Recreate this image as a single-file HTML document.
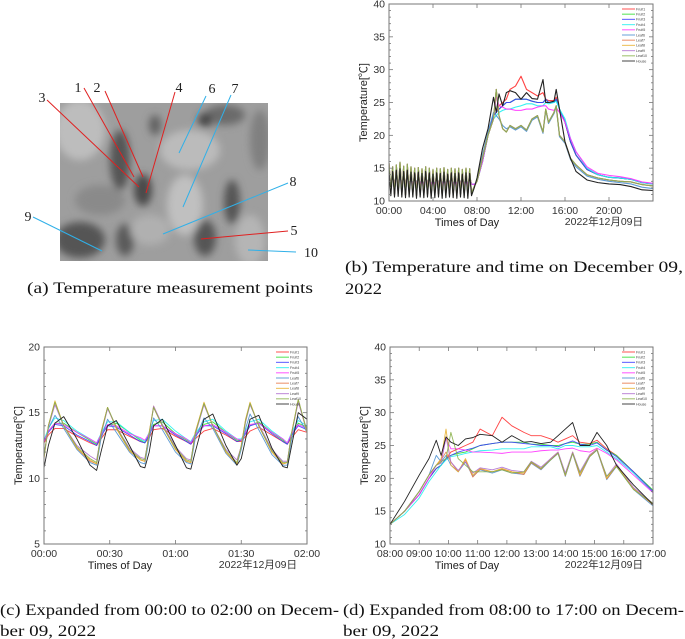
<!DOCTYPE html>
<html><head><meta charset="utf-8">
<style>
html,body{margin:0;padding:0;background:#fff;}
body{width:685px;height:639px;position:relative;overflow:hidden;}
svg{position:absolute;left:0;top:0;}
.cap{font-family:"Liberation Serif","Noto Serif CJK SC",serif;font-size:15.5px;fill:#111;}
.tk{font-family:"Liberation Sans","Noto Sans CJK JP",sans-serif;font-size:10.5px;fill:#333;}
.ttl{font-family:"Liberation Sans","Noto Sans CJK JP",sans-serif;font-size:11px;fill:#222;}
.lg{font-family:"Liberation Sans",sans-serif;font-size:3.6px;fill:#444;}
.num{font-family:"Liberation Serif",serif;font-size:14px;fill:#222;}
</style></head>
<body>
<svg id="fig" width="685" height="639" viewBox="0 0 685 639">
  <g>
    <defs>
      <filter id="blur"><feGaussianBlur stdDeviation="4"/></filter>
      <clipPath id="pc"><rect x="60" y="103" width="208" height="158"/></clipPath>
    </defs>
    <rect x="60" y="103" width="208" height="158" fill="#9e9e9e"/>
    <g clip-path="url(#pc)" filter="url(#blur)">
      <ellipse cx="80" cy="130" rx="25" ry="30" fill="#bdbdbd"/>
      <ellipse cx="120" cy="160" rx="10" ry="30" fill="#555"/>
      <ellipse cx="143" cy="190" rx="9" ry="16" fill="#4a4a4a"/>
      <ellipse cx="155" cy="125" rx="6" ry="10" fill="#606060"/>
      <ellipse cx="190" cy="150" rx="30" ry="20" fill="#bbb"/>
      <ellipse cx="225" cy="115" rx="20" ry="10" fill="#6a6a6a"/>
      <ellipse cx="232" cy="202" rx="8" ry="22" fill="#555"/>
      <ellipse cx="205" cy="238" rx="11" ry="18" fill="#555"/>
      <ellipse cx="125" cy="240" rx="9" ry="16" fill="#5a5a5a"/>
      <ellipse cx="80" cy="240" rx="25" ry="18" fill="#555"/>
      <ellipse cx="185" cy="205" rx="18" ry="30" fill="#c0c0c0"/>
      <ellipse cx="250" cy="240" rx="15" ry="25" fill="#b5b5b5"/>
      <ellipse cx="100" cy="200" rx="25" ry="15" fill="#8a8a8a"/>
      <ellipse cx="260" cy="140" rx="10" ry="30" fill="#808080"/>
      <ellipse cx="205" cy="120" rx="7" ry="7" fill="#444"/>
      <ellipse cx="150" cy="230" rx="20" ry="15" fill="#b0b0b0"/>
    </g>
  </g>
  <g stroke-width="1">
    <line x1="84" y1="88" x2="134" y2="177" stroke="#e02020"/>
    <line x1="105" y1="91" x2="143" y2="177" stroke="#e02020"/>
    <line x1="47" y1="100" x2="139" y2="187" stroke="#e02020"/>
    <line x1="175" y1="92" x2="146" y2="193" stroke="#e02020"/>
    <line x1="288" y1="231" x2="201" y2="239" stroke="#e02020"/>
    <line x1="206" y1="96" x2="179" y2="153" stroke="#30b0e8"/>
    <line x1="231" y1="95" x2="183" y2="207" stroke="#30b0e8"/>
    <line x1="288" y1="183" x2="163" y2="234" stroke="#30b0e8"/>
    <line x1="33" y1="217" x2="102" y2="251" stroke="#30b0e8"/>
    <line x1="296" y1="252" x2="248" y2="250" stroke="#30b0e8"/>
  </g>
  <g text-anchor="middle">
    <text class="num" x="78" y="92">1</text>
    <text class="num" x="97" y="92">2</text>
    <text class="num" x="42" y="102">3</text>
    <text class="num" x="179" y="92">4</text>
    <text class="num" x="212" y="93">6</text>
    <text class="num" x="235" y="93">7</text>
    <text class="num" x="293" y="186">8</text>
    <text class="num" x="294" y="235">5</text>
    <text class="num" x="28" y="221">9</text>
    <text class="num" x="311" y="257">10</text>
  </g>
  <text class="cap" x="27" y="293" textLength="286" lengthAdjust="spacingAndGlyphs">(a) Temperature measurement points</text>
  <text class="cap" x="345" y="272" textLength="338" lengthAdjust="spacingAndGlyphs">(b) Temperature and time on December 09,</text>
  <text class="cap" x="345" y="294" textLength="37" lengthAdjust="spacingAndGlyphs">2022</text>
  <text class="cap" x="0" y="615" textLength="339" lengthAdjust="spacingAndGlyphs">(c) Expanded from 00:00 to 02:00 on Decem-</text>
  <text class="cap" x="0" y="636" textLength="96" lengthAdjust="spacingAndGlyphs">ber 09, 2022</text>
  <text class="cap" x="343" y="615" textLength="341" lengthAdjust="spacingAndGlyphs">(d) Expanded from 08:00 to 17:00 on Decem-</text>
  <text class="cap" x="343" y="636" textLength="96" lengthAdjust="spacingAndGlyphs">ber 09, 2022</text>
</svg>
<script>
const seriesNames = ["Fruit1","Fruit2","Fruit3","Fruit4","Fruit5","Leaf6","Leaf7","Leaf8","Leaf9","Leaf10","House"];
const seriesColors = ["#ff3030","#30dd30","#3a3aff","#20f0f0","#ff30ff","#4a90d0","#e87848","#e8b030","#b070d0","#88b048","#222222"];

const bTimes = [0,10,20,30,40,50,60,70,80,90,100,110,120,130,140,150,160,170,180,190,200,210,220,230,240,250,260,270,280,290,300,310,320,330,340,350,360,370,380,390,400,410,420,430,440,450,
  465,480,510,540,570,585,600,620,640,660,690,720,750,780,810,840,855,870,900,912,930,960,990,1020,1080,1140,1200,1260,1320,1380,1440];
const bLeafNight = [15.8,11.5,15.2,11.0,15.5,11.2,15.9,11.0,15.3,10.9,15.6,11.1,15.2,11.0,15.0,10.8,15.1,11.0,14.9,10.9,15.2,11.0,15.0,10.8,14.8,10.9,15.0,11.0,14.9,10.8,15.1,10.9,14.8,11.0,15.0,10.9,14.9,10.8,15.0,11.0,14.8,10.9,15.0,10.8,14.9,11.2];
const bHouseNight = [14.8,10.8,14.5,10.6,14.7,10.7,14.9,10.6,14.5,10.5,14.7,10.6,14.4,10.6,14.3,10.4,14.4,10.6,14.2,10.5,14.5,10.6,14.3,10.4,14.1,10.5,14.3,10.6,14.2,10.4,14.4,10.5,14.1,10.6,14.3,10.5,14.2,10.4,14.3,10.6,14.1,10.5,14.3,10.4,14.2,10.8];
const bFruitNight = [13.9,12.6,13.8,12.5,13.9,12.6,14.0,12.5,13.8,12.4,13.9,12.5,13.7,12.5,13.7,12.4,13.8,12.5,13.6,12.4,13.8,12.5,13.7,12.4,13.6,12.4,13.7,12.5,13.6,12.4,13.7,12.4,13.6,12.5,13.7,12.4,13.6,12.4,13.7,12.5,13.6,12.4,13.7,12.4,13.6,12.6];
const bHouseDay = [12.0,13.5,18,21,25.8,23.5,26.3,24.5,26.5,26.8,26.5,25.5,26.5,25.6,25.5,28.5,25,25,25.2,27,24,19,16.5,14.5,13.2,12.8,12.6,12.5,12.2,11.7,11.6];
const bLeafDay = [12.2,13,16.5,20,22.5,27,23,21,20.5,21.5,21,21.5,20.8,22.5,23,20.5,24,22,23.5,24.5,20,19,16.5,15.5,14,13.5,13.2,13,12.9,12.5,12.3];
const bLeaf6Day = [12.2,13,17,20.5,23.5,23,22.5,21.5,21,21.3,20.8,21.3,20.6,22.3,22.8,20.3,23.8,21.8,23.3,24.3,19.8,18.8,16.3,15.2,13.8,13.3,13,12.8,12.6,12.1,11.9];
const bFruit1Day = [12.5,13,16,20,23,23.5,24.5,25,25.5,27,27.5,29,27,26.5,26,26.5,25.5,25.3,25.3,25.8,24,22,19,17,14.8,14,13.6,13.5,13.3,12.8,12.6];
const bFruit3Day = [12.5,13,16,20,23,23.5,24,24.5,25,25,25.5,25.5,25.5,25.2,25,25,25.5,25,25,25.5,24,22,19,17,14.8,14,13.6,13.5,13.3,12.8,12.6];
const bFruit4Day = [12.5,13,16,20,22.5,23,23.5,23.8,24,24,24.3,24.5,24.8,24.8,24.5,24.5,25,24.8,25,25.2,24,22.5,19.5,17.5,15,14,13.6,13.5,13.3,12.8,12.6];
const bFruit5Day = [12.5,13,16,20,22.5,26,24.5,24.3,24,24,23.8,23.8,24,24,24.3,24.5,24.5,24,23.8,24.2,23.5,22,19.5,17.5,15.2,14.2,13.9,13.7,13.4,12.9,12.7];

const cTimes = [0,2,5,9,15,21,24,26,29,33,39,44,46,48,50,54,60,65,67,69,73,77,83,88,90,92,94,98,104,109,111,113,116,120];
const cFruit1 = [12.7,13.3,13.8,13.8,13.2,12.7,12.5,13.0,13.7,13.7,13.2,12.8,12.7,13.1,13.7,13.8,13.2,12.8,12.6,13.0,13.6,13.8,13.3,12.8,12.8,13.2,13.6,13.9,13.3,12.8,12.6,13.1,13.7,13.5];
const cFruit2 = [12.9,13.6,14.2,14.2,13.5,12.9,12.6,13.3,14.0,14.2,13.5,12.9,12.7,13.3,14.1,14.3,13.4,12.9,12.7,13.3,14.1,14.3,13.5,12.9,12.9,13.4,14.0,14.3,13.5,12.9,12.6,13.3,14.2,13.9];
const cFruit3 = [12.8,13.5,14.1,14.0,13.3,12.8,12.5,13.2,14.0,13.9,13.3,12.8,12.7,13.3,14.0,14.0,13.3,12.8,12.6,13.2,14.0,14.0,13.4,12.8,12.9,13.4,14.0,14.2,13.4,12.8,12.6,13.3,14.0,13.7];
const cFruit4 = [12.9,13.8,14.6,14.4,13.6,13.0,12.7,13.4,14.3,14.3,13.5,13.0,12.8,13.5,14.4,14.5,13.6,13.0,12.8,13.4,14.3,14.5,13.6,13.0,13.0,13.6,14.3,14.5,13.6,13.0,12.7,13.5,14.4,14.0];
const cFruit5 = [12.8,13.6,14.2,14.1,13.5,13.0,12.7,13.3,14.1,14.0,13.4,13.1,12.9,13.4,14.0,14.0,13.4,13.0,12.7,13.3,14.0,14.1,13.5,13.0,12.9,13.5,14.1,14.2,13.5,13.0,12.7,13.4,14.1,13.8];
const cLeaf6 = [11.8,13.8,14.8,13.8,12.2,11.2,11.0,13.0,14.5,13.5,12.0,11.2,11.1,13.0,14.6,13.7,12.0,11.2,11.1,13.0,14.6,13.8,11.9,11.0,12.2,13.8,14.9,13.7,11.8,11.0,11.0,13.0,14.7,13.5];
const cLeaf7 = [11.6,14.0,15.8,14.0,12.3,11.3,11.1,13.5,15.4,13.8,12.1,11.4,11.3,13.5,15.4,14.0,12.2,11.3,11.2,13.5,15.7,14.0,12.0,11.1,12.5,14.5,15.7,14.0,12.0,11.1,11.2,13.5,15.9,13.5];
const cLeaf8 = [11.5,14.0,15.9,14.0,12.3,11.4,11.1,13.5,15.4,13.8,12.1,11.4,11.3,13.5,15.5,14.0,12.2,11.3,11.2,13.5,15.8,14.0,12.0,11.1,12.5,14.5,15.8,14.0,12.0,11.1,11.2,13.5,16.0,13.5];
const cLeaf9 = [11.7,13.9,15.6,14.0,12.5,11.7,11.4,13.3,15.3,13.9,12.3,11.6,11.5,13.3,15.5,14.1,12.4,11.5,11.4,13.3,15.6,14.0,12.2,11.4,12.4,14.3,15.6,14.1,12.2,11.3,11.3,13.4,15.8,13.6];
const cLeaf10 = [11.6,14.0,15.8,14.0,12.4,11.5,11.2,13.4,15.4,13.9,12.2,11.5,11.4,13.4,15.4,14.0,12.3,11.4,11.3,13.4,15.7,14.0,12.1,11.2,12.4,14.4,15.7,14.0,12.1,11.2,11.2,13.4,16.0,13.6];
const cHouse = [10.8,12.5,14.2,14.7,13.0,11.0,10.6,12.0,14.0,14.4,12.5,10.9,10.8,12.0,14.0,14.5,12.5,10.8,10.7,12.0,14.5,14.9,12.5,11.0,11.5,13.0,14.5,14.8,12.3,10.9,10.8,12.5,15.0,14.5];

const dTimes = [0,30,60,80,95,105,115,125,140,155,170,185,210,230,250,275,290,310,330,345,360,375,390,410,425,445,465,500,540];
const dFruit1 = [13,15,17.5,20,21.5,22,23,24,24.5,25,25.5,27.5,26.5,29.3,28,27,26.5,26.5,26,25.5,26,26.5,25.5,25.3,25.8,24.5,23.5,21,18];
const dFruit2 = [13,15,17.5,20,21.5,22,23,23.5,23.8,24,24.5,25,25.3,25.5,25.5,25.5,25.2,25.2,25,25,25.3,25.5,25.2,25.2,25.5,24.3,23.5,21,18.2];
const dFruit3 = [13,15,17.5,20,21.5,22,23,23.5,24,24.3,24.6,25,25.3,25.5,25.5,25.3,25.2,25,25,24.8,25.3,25.7,25.2,25,25.4,24.3,23.3,21,18];
const dFruit4 = [13,14.5,17,19.5,21,22,22.8,23.3,23.5,23.8,24,24.2,24.3,24.5,24.5,24.5,24.8,24.8,24.8,24.5,25,25,24.8,24.8,25,24,23,20.8,17.8];
const dFruit5 = [13,15,17.5,20,22,22.5,26.2,24.5,24.5,24.3,24,24,23.9,23.8,24,24,24,24.2,24.3,24.3,24.5,24.6,24.2,24,24.6,23.8,22.8,20.5,17.8];
const dLeaf6 = [13,15,18,20.5,23.5,22.5,23.5,22,21,22.5,20.3,21.3,20.8,21.3,20.8,20.6,22.3,21.3,22.8,23.8,20.3,23.8,20.3,23.3,24.3,19.8,21.8,18.3,15.8];
const dLeaf7 = [13,15,18,20.5,22,22.8,24,22.5,21,22.8,20.2,21.4,21,21.4,21,20.6,22.4,21.4,22.9,23.9,20.4,23.9,20.4,23.4,24.4,19.9,21.9,18.4,16];
const dLeaf8 = [13,15,18,20.5,22,23,27.5,22,21,23,20.5,21.5,21,21.5,21,20.8,22.5,21.5,23,24,20.5,24,20.5,23.5,24.5,20,22,18.5,16];
const dLeaf9 = [13,15,18,20.5,22,22.3,26.3,22.5,21.2,22.5,20.8,21.6,21.3,21.7,21.2,21,22.6,21.7,23,24,20.8,24,21,23.6,24.4,20.3,22.2,18.6,16.2];
const dLeaf10 = [13,15,18,20.5,22,22.5,23,27,23,22,21,21,21,21.3,20.8,21,22.5,21.5,22.8,23.8,20.5,23.8,20.8,23.3,24.3,20.3,21.8,18.3,16.2];
const dHouse = [13,16.5,20.5,23,25.8,23.5,26.3,25.5,25,26,26.2,26.7,26.5,25.5,26.5,25.5,25.6,25.3,25.5,26.5,27.5,28.5,25,25,27,25,22,19,16];

const SVGNS = "http://www.w3.org/2000/svg";
const fig = document.getElementById("fig");
function mk(tag, attrs, parent){ const e=document.createElementNS(SVGNS,tag); for(const k in attrs) e.setAttribute(k,attrs[k]); (parent||fig).appendChild(e); return e; }

function drawChart(cfg){
  const g = mk("g",{});
  
  
  const xs = v => cfg.L + (v - cfg.x0)/(cfg.x1 - cfg.x0)*(cfg.R - cfg.L);
  const ys = v => cfg.B - (v - cfg.y0)/(cfg.y1 - cfg.y0)*(cfg.B - cfg.T);
  const clipId = cfg.name + "-clip";
  const cp = mk("clipPath",{id:clipId},g);
  mk("rect",{x:cfg.L,y:cfg.T,width:cfg.R-cfg.L,height:cfg.B-cfg.T},cp);
  const sg = mk("g",{"clip-path":"url(#"+clipId+")"},g);
  cfg.series.forEach((vals,i)=>{
    let d="";
    vals.forEach((v,j)=>{ d += (j?"L":"M") + xs(cfg.times[j]).toFixed(2) + "," + ys(v).toFixed(2); });
    const p = mk("path",{d:d,fill:"none",stroke:seriesColors[i],"stroke-width":cfg.sw,"stroke-opacity":i===10?1:0.9,"stroke-linejoin":"round"},sg);
    
    
  });
  const fr = mk("rect",{x:cfg.L,y:cfg.T,width:cfg.R-cfg.L,height:cfg.B-cfg.T,fill:"none",stroke:"#777","stroke-width":1},g);
  
  
  for(let v=cfg.y0; v<=cfg.y1+1e-9; v+=cfg.yMinor){
    const major = Math.abs((v-cfg.y0)/cfg.yStep - Math.round((v-cfg.y0)/cfg.yStep))<1e-6;
    const len = major?4:2;
    mk("line",{x1:cfg.L,x2:cfg.L+len,y1:ys(v),y2:ys(v),stroke:"#777","stroke-width":0.8},g);
    mk("line",{x1:cfg.R,x2:cfg.R-len,y1:ys(v),y2:ys(v),stroke:"#777","stroke-width":0.8},g);
  }
  cfg.yTicks.forEach(v=>{
    const t = mk("text",{x:cfg.L-4,y:ys(v)+3.5,"text-anchor":"end",class:"tk"},g);
    t.textContent = String(v);
    
    
  });
  cfg.xTicks.forEach((v,k)=>{
    mk("line",{x1:xs(v),x2:xs(v),y1:cfg.B,y2:cfg.B-4,stroke:"#777","stroke-width":0.8},g);
    mk("line",{x1:xs(v),x2:xs(v),y1:cfg.T,y2:cfg.T+4,stroke:"#777","stroke-width":0.8},g);
    const t = mk("text",{x:xs(v),y:cfg.B+13,"text-anchor":"middle",class:"tk"},g);
    t.textContent = cfg.xLabels[k];
    
    
  });
  const xt = mk("text",{x:cfg.xTitleX,y:cfg.B+25,"text-anchor":"middle",class:"ttl"},g);
  xt.textContent = "Times of Day";
  
  
  const dt = mk("text",{x:cfg.R-10,y:cfg.B+24,"text-anchor":"end",class:"tk"},g);
  dt.textContent = "2022年12月09日";
  
  
  const cy = (cfg.T+cfg.B)/2;
  const yt = mk("text",{x:cfg.L-22,y:cy,"text-anchor":"middle",class:"ttl",transform:"rotate(-90 "+(cfg.L-22)+" "+cy+")"},g);
  yt.textContent = "Temperature[℃]";
  
  
  const lg = mk("g",{},g);
  
  
  seriesNames.forEach((n,i)=>{
    const y = cfg.T + 5 + i*5.2;
    const ln = mk("line",{x1:cfg.R-31,x2:cfg.R-18,y1:y,y2:y,stroke:seriesColors[i],"stroke-width":1.2,"stroke-opacity":0.7},lg);
    
    
    const t = mk("text",{x:cfg.R-17,y:y+1.3,class:"lg"},lg);
    t.textContent = n;
    
    
  });
}

const bLeaf = bLeafNight.concat(bLeafDay);
const bLeaf6 = bLeafNight.concat(bLeaf6Day);
const bHouse = bHouseNight.concat(bHouseDay);
const bF1 = bFruitNight.concat(bFruit1Day);
const bF3 = bFruitNight.concat(bFruit3Day);
const bF4 = bFruitNight.concat(bFruit4Day);
const bF5 = bFruitNight.concat(bFruit5Day);

drawChart({name:"chart-b-full-day",L:389,R:653,T:4,B:201,x0:0,x1:1440,y0:10,y1:40,yStep:5,yMinor:1,sw:1.1,
  yTicks:[10,15,20,25,30,35,40],xTicks:[0,240,480,720,960,1200],xLabels:["00:00","04:00","08:00","12:00","16:00","20:00"],
  xTitleX:467,times:bTimes,series:[bF1,bF3,bF3,bF4,bF5,bLeaf6,bLeaf,bLeaf,bLeaf,bLeaf,bHouse]});

drawChart({name:"chart-c-night",L:44,R:307,T:347,B:544,x0:0,x1:120,y0:5,y1:20,yStep:5,yMinor:1,sw:0.9,
  yTicks:[5,10,15,20],xTicks:[0,30,60,90,120],xLabels:["00:00","00:30","01:00","01:30","02:00"],
  xTitleX:120,times:cTimes,series:[cFruit1,cFruit2,cFruit3,cFruit4,cFruit5,cLeaf6,cLeaf7,cLeaf8,cLeaf9,cLeaf10,cHouse]});

drawChart({name:"chart-d-daytime",L:390,R:653,T:347,B:544,x0:0,x1:540,y0:10,y1:40,yStep:5,yMinor:1,sw:0.9,
  yTicks:[10,15,20,25,30,35,40],xTicks:[0,60,120,180,240,300,360,420,480,540],
  xLabels:["08:00","09:00","10:00","11:00","12:00","13:00","14:00","15:00","16:00","17:00"],
  xTitleX:467,times:dTimes,series:[dFruit1,dFruit2,dFruit3,dFruit4,dFruit5,dLeaf6,dLeaf7,dLeaf8,dLeaf9,dLeaf10,dHouse]});
</script>
</body></html>
